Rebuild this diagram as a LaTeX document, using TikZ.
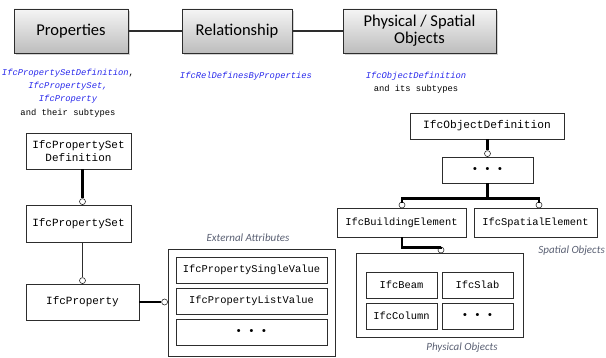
\documentclass[tikz,border=0pt]{standalone}
\usepackage{fontspec}
\setmainfont{Carlito}
\newfontfamily\mono{Liberation Mono}
\usetikzlibrary{shadows,calc}
\definecolor{ifcblue}{RGB}{40,40,235}
\definecolor{capgray}{RGB}{90,96,115}
\definecolor{edge}{RGB}{45,45,45}
\tikzset{
  topbox/.style={draw=edge, line width=0.9pt, top color=gray!8, bottom color=gray!52,
    drop shadow={shadow xshift=2pt, shadow yshift=-2pt, opacity=0.35, fill=gray},
    inner sep=0, font=\fontsize{16.5}{19}\selectfont, align=center},
  classbox/.style={draw=edge, line width=0.8pt, fill=white, inner sep=0,
    drop shadow={shadow xshift=1pt, shadow yshift=-1pt, opacity=0.3, fill=gray},
    font=\mono\fontsize{10.4}{13}\selectfont, align=center},
  groupbox/.style={draw=edge, line width=0.8pt, fill=white, inner sep=0,
    drop shadow={shadow xshift=1pt, shadow yshift=-1pt, opacity=0.3, fill=gray}},
  ifclabel/.style={font=\mono\fontsize{8.8}{13.3}\selectfont, align=center, inner sep=0},
  caption/.style={font=\itshape\fontsize{11}{13}\selectfont, text=capgray, inner sep=0},
  joint/.style={circle, draw=edge, fill=white, line width=0.6pt, minimum size=6pt, inner sep=0},
  heavy/.style={line width=2.4pt},
  light/.style={line width=0.9pt, draw=edge},
  dots/.style={font=\mono\bfseries\fontsize{10.5}{13}\selectfont},
}
\begin{document}
\begin{tikzpicture}[x=1pt,y=-1pt]
\useasboundingbox (0,0) rectangle (606,358);

% top row
\node[topbox, minimum width=114pt, minimum height=44pt] (props) at (71,31) {Properties};
\node[topbox, minimum width=110pt, minimum height=44pt] (rel) at (237,31) {Relationship};
\node[topbox, minimum width=153pt, minimum height=44pt] (phys) at (419.5,31) {Physical / Spatial\\[-2pt]Objects};
\draw[light, line width=1.2pt] (props) -- (rel);
\draw[light, line width=1.2pt] (rel) -- (phys);

% IFC entity labels
\node[ifclabel] (lprops) at (68,93) {\textcolor{ifcblue}{\itshape IfcPropertySetDefinition},\\
  \textcolor{ifcblue}{\itshape IfcPropertySet,}\\
  \textcolor{ifcblue}{\itshape IfcProperty}\\
  and their subtypes};
\node[ifclabel, text=ifcblue] (lrel) at (246,76) {\itshape IfcRelDefinesByProperties};
\node[ifclabel] (lobj) at (416,83) {\textcolor{ifcblue}{\itshape IfcObjectDefinition}\\and its subtypes};

% property chain
\node[classbox, font=\mono\fontsize{11}{13.5}\selectfont, minimum width=105pt, minimum height=36pt] (psd) at (78.5,151) {IfcPropertySet\\Definition};
\node[classbox, font=\mono\fontsize{11}{13.5}\selectfont, minimum width=105pt, minimum height=37pt] (pset) at (78.5,223.5) {IfcPropertySet};
\node[classbox, font=\mono\fontsize{11}{13.5}\selectfont, minimum width=113pt, minimum height=36pt] (prop) at (82.5,302) {IfcProperty};

\node[joint] (j1) at ($(pset.north -| prop.north)+(0,-3)$) {};
\node[joint] (j2) at ($(prop.north)+(0,-3)$) {};
\draw[heavy] (psd.south -| prop.north) -- (j1.north);
\draw[light] (pset.south -| prop.north) -- (j2.north);

% external attributes
\node[groupbox, minimum width=167pt, minimum height=107pt] (ext) at (251.5,302.5) {};
\node[caption] (lext) at (248,238) {External Attributes};
\node[classbox, minimum width=151pt, minimum height=26pt] (psv) at (251.5,270) {IfcPropertySingleValue};
\node[classbox, minimum width=151pt, minimum height=26pt] (plv) at (251.5,301) {IfcPropertyListValue};
\node[classbox, dots, minimum width=151pt, minimum height=26pt] (pmore) at (251.5,332) {• • •};
\node[joint] (j3) at ($(ext.west |- prop.east)+(-3,0)$) {};
\draw[heavy] (prop.east) -- (j3.west);

% object hierarchy
\node[classbox, font=\mono\fontsize{11.2}{13}\selectfont, minimum width=154pt, minimum height=26pt] (obj) at (487,126) {IfcObjectDefinition};
\node[classbox, dots, minimum width=91pt, minimum height=26pt] (omore) at (487.5,170) {• • •};
\node[joint] (j4) at ($(omore.north)+(0,-3)$) {};
\draw[heavy] (obj.south -| j4) -- (j4.north);

\node[classbox, minimum width=129pt, minimum height=29pt] (bldg) at (401.5,222.5) {IfcBuildingElement};
\node[classbox, minimum width=123pt, minimum height=29pt] (spat) at (535.5,222.5) {IfcSpatialElement};
\node[joint] (j5) at (402,205) {};
\node[joint] (j6) at (539,205) {};
\coordinate (bus) at ($(omore.south)+(0,15)$);
\draw[heavy] (omore.south) -- (bus);
\draw[heavy, line cap=rect] (j5.north) -- (j5.north |- bus) -- (j6.north |- bus) -- (j6.north);
\node[caption, anchor=east] (lspat) at (605,251) {Spatial Objects};

% physical objects
\node[groupbox, minimum width=167pt, minimum height=84pt] (physc) at (439.5,295) {};
\node[classbox, minimum width=71pt, minimum height=26pt] (beam) at (401.5,285) {IfcBeam};
\node[classbox, minimum width=71pt, minimum height=26pt] (slab) at (477.5,285) {IfcSlab};
\node[classbox, minimum width=71pt, minimum height=26pt] (col) at (401.5,316) {IfcColumn};
\node[classbox, dots, minimum width=71pt, minimum height=26pt] (pmore2) at (477.5,316) {• • •};
\node[joint] (j7) at (441,250) {};
\draw[heavy] (bldg.south -| j5) -- ++(0,10) -| (j7.north);
\node[caption] (lphys) at (462,348) {Physical Objects};
\end{tikzpicture}
\end{document}
